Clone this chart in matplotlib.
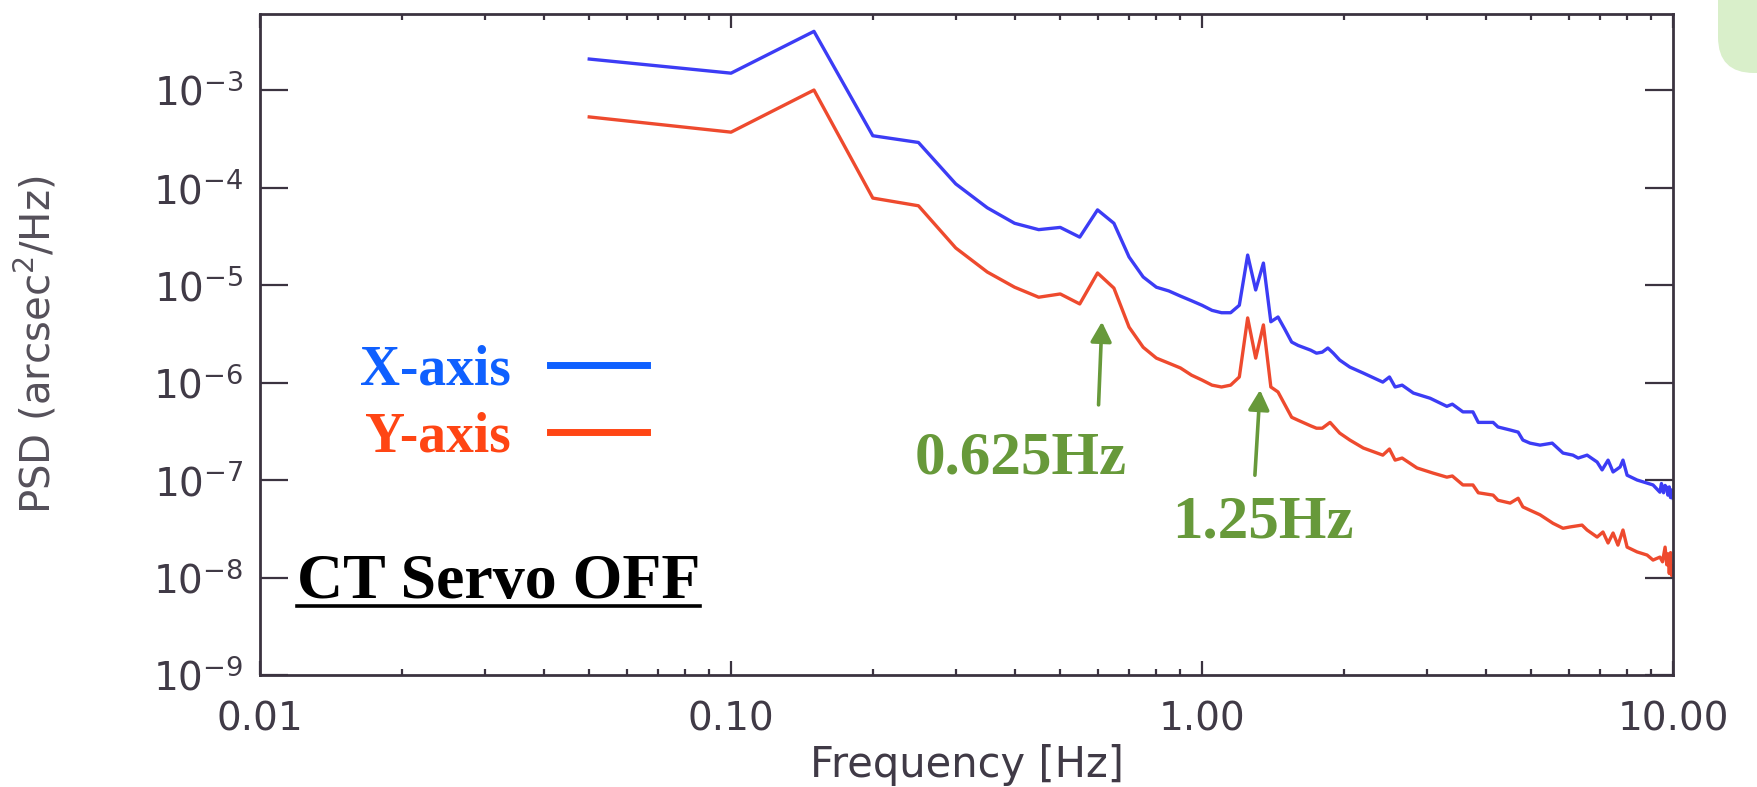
import matplotlib.pyplot as plt
import numpy as np
from matplotlib.lines import Line2D
from matplotlib.patches import FancyBboxPatch
from matplotlib.ticker import LogFormatterMathtext, NullLocator, LogLocator
from matplotlib.transforms import IdentityTransform

# PSD of the X-axis error signal (arcsec^2/Hz) vs frequency (Hz)
freq_x = [0.05, 0.10, 0.15, 0.20, 0.25, 0.30, 0.35, 0.40, 0.45, 0.50,
          0.55, 0.60, 0.65, 0.70, 0.75, 0.80, 0.85, 0.90, 0.95, 1.00,
          1.05, 1.10, 1.15, 1.20, 1.25, 1.30, 1.35, 1.40, 1.45, 1.50,
          1.55, 1.60, 1.70, 1.75, 1.80, 1.85, 1.90, 1.96, 2.06, 2.20,
          2.42, 2.50, 2.57, 2.66, 2.81, 3.05, 3.31, 3.40, 3.58, 3.76,
          3.86, 4.15, 4.25, 4.51, 4.69, 4.80, 4.97, 5.22, 5.54, 5.84,
          6.13, 6.29, 6.57, 6.90, 7.07, 7.28, 7.46, 7.72, 7.83, 7.99,
          8.39, 8.81, 9.07, 9.38, 9.45, 9.55, 9.62, 9.71, 9.75, 9.82,
          9.88, 9.93, 10.0]
psd_x = [2.08e-3, 1.49e-3, 4.0e-3, 3.4e-4, 2.9e-4, 1.09e-4, 6.2e-5, 4.3e-5, 3.7e-5, 3.9e-5,
         3.1e-5, 5.9e-5, 4.3e-5, 1.94e-5, 1.21e-5, 9.5e-6, 8.7e-6, 7.7e-6, 6.9e-6, 6.2e-6,
         5.5e-6, 5.2e-6, 5.2e-6, 6.2e-6, 2.03e-5, 8.9e-6, 1.68e-5, 4.2e-6, 4.7e-6, 3.5e-6,
         2.6e-6, 2.4e-6, 2.15e-6, 2.0e-6, 2.05e-6, 2.26e-6, 2.0e-6, 1.7e-6, 1.44e-6, 1.25e-6,
         1.01e-6, 1.14e-6, 9.0e-7, 9.4e-7, 7.8e-7, 6.9e-7, 5.7e-7, 6.0e-7, 5.0e-7, 5.0e-7,
         3.9e-7, 3.9e-7, 3.5e-7, 3.26e-7, 3.1e-7, 2.57e-7, 2.39e-7, 2.28e-7, 2.39e-7, 1.89e-7,
         1.8e-7, 1.68e-7, 1.8e-7, 1.53e-7, 1.27e-7, 1.6e-7, 1.21e-7, 1.36e-7, 1.6e-7, 1.12e-7,
         1.0e-7, 9.3e-8, 8.9e-8, 7.5e-8, 9.2e-8, 7.4e-8, 8.8e-8, 8.3e-8, 7.0e-8, 8.5e-8,
         6.6e-8, 7.9e-8, 6.5e-8]

# PSD of the Y-axis error signal
freq_y = [0.05, 0.10, 0.15, 0.20, 0.25, 0.30, 0.35, 0.40, 0.45, 0.50,
          0.55, 0.60, 0.65, 0.70, 0.75, 0.80, 0.85, 0.90, 0.95, 1.00,
          1.05, 1.10, 1.15, 1.20, 1.25, 1.30, 1.35, 1.40, 1.45, 1.50,
          1.55, 1.60, 1.70, 1.75, 1.80, 1.87, 1.96, 2.06, 2.20, 2.42,
          2.50, 2.57, 2.66, 2.86, 3.09, 3.31, 3.40, 3.58, 3.76, 3.86,
          4.15, 4.25, 4.51, 4.69, 4.80, 4.97, 5.22, 5.56, 5.84, 6.04,
          6.41, 6.57, 6.90, 7.10, 7.28, 7.46, 7.64, 7.83, 7.99, 8.39,
          8.81, 9.07, 9.38, 9.50, 9.62, 9.70, 9.76, 9.82, 9.88, 9.93,
          10.0]
psd_y = [5.3e-4, 3.7e-4, 1.0e-3, 7.8e-5, 6.5e-5, 2.4e-5, 1.36e-5, 9.5e-6, 7.5e-6, 8.1e-6,
         6.4e-6, 1.33e-5, 9.3e-6, 3.7e-6, 2.3e-6, 1.78e-6, 1.58e-6, 1.41e-6, 1.19e-6, 1.06e-6,
         9.4e-7, 9.0e-7, 9.4e-7, 1.14e-6, 4.6e-6, 1.78e-6, 3.9e-6, 9.0e-7, 8.0e-7, 5.9e-7,
         4.4e-7, 4.1e-7, 3.6e-7, 3.4e-7, 3.4e-7, 3.9e-7, 3.03e-7, 2.57e-7, 2.13e-7, 1.8e-7,
         2.08e-7, 1.6e-7, 1.68e-7, 1.33e-7, 1.18e-7, 1.07e-7, 1.1e-7, 8.9e-8, 8.9e-8, 7.4e-8,
         7.0e-8, 6.2e-8, 5.8e-8, 6.5e-8, 5.3e-8, 4.9e-8, 4.4e-8, 3.6e-8, 3.2e-8, 3.3e-8,
         3.45e-8, 3.07e-8, 2.6e-8, 2.93e-8, 2.26e-8, 2.86e-8, 2.15e-8, 3.07e-8, 2.05e-8, 1.83e-8,
         1.7e-8, 1.51e-8, 1.62e-8, 1.45e-8, 2.05e-8, 1.35e-8, 1.75e-8, 1.1e-8, 1.8e-8, 1.05e-8,
         1.3e-8]

x_ticks = [0.01, 0.1, 1.0, 10.0]
x_tick_labels = ['0.01', '0.10', '1.00', '10.00']
y_ticks = [1e-9, 1e-8, 1e-7, 1e-6, 1e-5, 1e-4, 1e-3]

series_names = ['X-axis', 'Y-axis']
peak_names = ['0.625Hz', '1.25Hz']

AXIS_COLOR = '#3b3340'
TEXT_COLOR = '#403a46'
LINE_BLUE = '#3c3cf5'
LINE_RED = '#ee4a2e'
KEY_BLUE = '#0f60ff'
KEY_RED = '#ff4514'
GREEN = '#67993a'

plt.rcParams['font.family'] = ['DejaVu Sans']
plt.rcParams['mathtext.default'] = 'regular'

fig = plt.figure(figsize=(17.57, 7.87), dpi=100)
ax = fig.add_axes([0.148, 0.1423, 0.8042, 0.8399])

ax.plot(freq_x, psd_x, color=LINE_BLUE, lw=2.4)
ax.plot(freq_y, psd_y, color=LINE_RED, lw=2.4)

ax.set_xscale('log')
ax.set_yscale('log')
ax.set_xlim(0.01, 10)
ax.set_ylim(1e-9, 10 ** -2.22)

ax.set_xticks(x_ticks, x_tick_labels)
ax.xaxis.set_minor_locator(LogLocator(base=10, subs=np.arange(2, 10)))
ax.set_yticks(y_ticks)
ax.yaxis.set_major_formatter(LogFormatterMathtext())
ax.yaxis.set_minor_locator(NullLocator())

ax.tick_params(axis='x', which='major', direction='in', length=10, width=1.6,
               top=True, color=AXIS_COLOR, labelcolor=TEXT_COLOR,
               labelsize=28, pad=18)
ax.tick_params(axis='x', which='minor', direction='in', length=4.5, width=1.6,
               top=True, color=AXIS_COLOR)
ax.tick_params(axis='y', which='major', direction='in', length=20, width=1.6,
               right=True, color=AXIS_COLOR, labelcolor=TEXT_COLOR,
               labelsize=28, pad=12)
for sp in ax.spines.values():
    sp.set_color(AXIS_COLOR)
    sp.set_linewidth(2.0)

ax.set_xlabel('Frequency [Hz]', fontsize=30, color=TEXT_COLOR)
ax.xaxis.set_label_coords(0.5, -0.105)
ax.xaxis.label.set_va('top')
ax.set_ylabel('PSD (arcsec$^2$/Hz)', fontsize=29, color='#55505a')
ax.yaxis.set_label_coords(-0.142, 0.5)

# key: label on the left, swatch on the right
key_font = {'family': 'Liberation Serif', 'weight': 'bold', 'size': 40}
handles = [Line2D([], [], color=KEY_BLUE, lw=5),
           Line2D([], [], color=KEY_RED, lw=5)]
leg = ax.legend(handles, series_names, loc='center left',
                bbox_to_anchor=(0.071, 0.41), frameon=False, markerfirst=False,
                prop=key_font, handlelength=1.75, handletextpad=0.7,
                labelspacing=0.26, borderpad=0, borderaxespad=0)
for txt, c in zip(leg.get_texts(), [KEY_BLUE, KEY_RED]):
    txt.set_color(c)

# resonance markers
arrow = dict(arrowstyle='-|>,head_length=0.6,head_width=0.32', color=GREEN,
             lw=2.6, shrinkA=0, shrinkB=0, mutation_scale=20)
ax.annotate('', xy=(0.613, 4.2e-6), xytext=(0.603, 5.9e-7), arrowprops=arrow)
ax.annotate('', xy=(1.328, 8.4e-7), xytext=(1.295, 1.12e-7), arrowprops=arrow)
ax.text(0.413, 1.18e-7, peak_names[0], ha='center', va='baseline',
        family='Liberation Serif', weight='bold', size=44, color=GREEN)
ax.text(1.347, 2.6e-8, peak_names[1], ha='center', va='baseline',
        family='Liberation Serif', weight='bold', size=44, color=GREEN)

status = ax.text(0.026, 0.1165, 'CT Servo OFF', transform=ax.transAxes,
                 ha='left', va='baseline', family='Liberation Serif',
                 weight='bold', size=46, color='black')

# underline the status text from its rendered extent
fig.canvas.draw()
bb = status.get_window_extent(fig.canvas.get_renderer())
base_y = ax.transAxes.transform((0.026, 0.1165))[1]
fig.add_artist(Line2D([bb.x0, bb.x1], [base_y - 8, base_y - 8], color='black',
                      lw=2.6, transform=IdentityTransform()))

# light green slide tab in the top-right corner
fig.add_artist(FancyBboxPatch((1718, 714), 140, 160,
                              boxstyle='round,pad=0,rounding_size=36',
                              fc='#d9efca', ec='none',
                              transform=IdentityTransform()))

fig.savefig('out.png', dpi=100)
